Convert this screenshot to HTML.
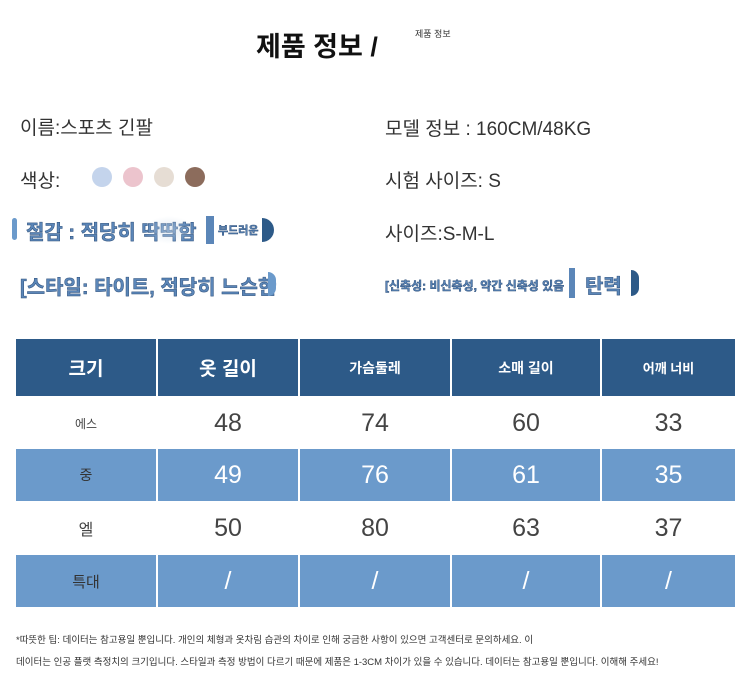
<!DOCTYPE html>
<html><head><meta charset="utf-8"><style>
body{margin:0;width:750px;height:699px;background:#fff;position:relative;overflow:hidden;font-family:"Liberation Sans","Noto Sans CJK KR",sans-serif;color:#333}
.a{position:absolute;white-space:nowrap}
.t{font-size:19px;color:#333}
.cell{position:absolute;display:flex;align-items:center;justify-content:center}
.h{background:#2d5a88;color:#fff}
.b{background:#6b9acb;color:#fff}
.w{background:#fff;color:#444}
.dot{position:absolute;width:20px;height:20px;border-radius:50%;top:167px}
.tag{position:absolute;color:#5b86b8;font-weight:bold;-webkit-text-stroke:0.5px #2d4f7a;text-shadow:0 0 2px #fff,0 0 3px #fff}
</style></head><body>
<div class="a" style="left:256px;top:25px;font-size:27px;font-weight:bold;color:#111">제품 정보 /</div>
<div class="a" style="left:415px;top:27px;font-size:9px;color:#333">제품 정보</div>

<div class="a t" style="left:20px;top:113px">이름:스포츠 긴팔</div>
<div class="a t" style="left:385px;top:114px">모델 정보 : 160CM/48KG</div>
<div class="a t" style="left:20px;top:166px">색상:</div>
<div class="dot" style="left:92px;background:#c4d4ec"></div>
<div class="dot" style="left:123px;background:#ecc4cd"></div>
<div class="dot" style="left:154px;background:#e6ddd4"></div>
<div class="dot" style="left:185px;background:#8c6c5c"></div>
<div class="a t" style="left:385px;top:166px">시험 사이즈: S</div>
<div class="a t" style="left:385px;top:219px">사이즈:S-M-L</div>

<div class="a" style="left:12px;top:218px;width:5px;height:22px;background:#6b9acb;border-radius:3px"></div>
<div class="tag" style="left:26px;top:216px;font-size:20px">절감 : 적당히 딱딱함</div>
<div class="a" style="left:144px;top:216px;width:50px;height:28px;background:radial-gradient(#c9d8e8,transparent 70%);opacity:.5"></div>
<div class="a" style="left:206px;top:216px;width:8px;height:28px;background:#5b86b8"></div>
<div class="tag" style="left:218px;top:222px;font-size:11px">부드러운</div>
<div class="a" style="left:262px;top:218px;width:12px;height:24px;background:#2d5a88;border-radius:0 12px 12px 0"></div>

<div class="tag" style="left:20px;top:271px;font-size:20px">[스타일: 타이트, 적당히 느슨한</div>
<div class="a" style="left:268px;top:272px;width:8px;height:24px;background:#6b9acb;border-radius:0 12px 12px 0"></div>
<div class="tag" style="left:385px;top:277px;font-size:12px">[신축성: 비신축성, 약간 신축성 있음</div>
<div class="a" style="left:569px;top:268px;width:6px;height:30px;background:#5b86b8"></div>
<div class="tag" style="left:585px;top:270px;font-size:20px">탄력</div>
<div class="a" style="left:631px;top:270px;width:8px;height:26px;background:#2d5a88;border-radius:0 13px 13px 0"></div>

<!-- table -->
<div class="cell h" style="left:16px;top:339px;width:140px;height:57px;font-size:19px;font-weight:bold">크기</div>
<div class="cell h" style="left:158px;top:339px;width:140px;height:57px;font-size:19px;font-weight:bold">옷 길이</div>
<div class="cell h" style="left:300px;top:339px;width:150px;height:57px;font-size:14px;font-weight:bold">가슴둘레</div>
<div class="cell h" style="left:452px;top:339px;width:148px;height:57px;font-size:14px;font-weight:bold">소매 길이</div>
<div class="cell h" style="left:602px;top:339px;width:133px;height:57px;font-size:13px;font-weight:bold">어깨 너비</div>

<div class="cell w" style="left:16px;top:398px;width:140px;height:50px;font-size:12px">에스</div>
<div class="cell w" style="left:158px;top:398px;width:140px;height:50px;font-size:25px">48</div>
<div class="cell w" style="left:300px;top:398px;width:150px;height:50px;font-size:25px">74</div>
<div class="cell w" style="left:452px;top:398px;width:148px;height:50px;font-size:25px">60</div>
<div class="cell w" style="left:602px;top:398px;width:133px;height:50px;font-size:25px">33</div>

<div class="cell b" style="left:16px;top:449px;width:140px;height:52px;font-size:14px;color:#333">중</div>
<div class="cell b" style="left:158px;top:449px;width:140px;height:52px;font-size:25px">49</div>
<div class="cell b" style="left:300px;top:449px;width:150px;height:52px;font-size:25px">76</div>
<div class="cell b" style="left:452px;top:449px;width:148px;height:52px;font-size:25px">61</div>
<div class="cell b" style="left:602px;top:449px;width:133px;height:52px;font-size:25px">35</div>

<div class="cell w" style="left:16px;top:502px;width:140px;height:52px;font-size:16px">엘</div>
<div class="cell w" style="left:158px;top:502px;width:140px;height:52px;font-size:25px">50</div>
<div class="cell w" style="left:300px;top:502px;width:150px;height:52px;font-size:25px">80</div>
<div class="cell w" style="left:452px;top:502px;width:148px;height:52px;font-size:25px">63</div>
<div class="cell w" style="left:602px;top:502px;width:133px;height:52px;font-size:25px">37</div>

<div class="cell b" style="left:16px;top:555px;width:140px;height:52px;font-size:15px;color:#333">특대</div>
<div class="cell b" style="left:158px;top:555px;width:140px;height:52px;font-size:25px">/</div>
<div class="cell b" style="left:300px;top:555px;width:150px;height:52px;font-size:25px">/</div>
<div class="cell b" style="left:452px;top:555px;width:148px;height:52px;font-size:25px">/</div>
<div class="cell b" style="left:602px;top:555px;width:133px;height:52px;font-size:25px">/</div>

<div class="a" style="left:16px;top:632px;font-size:9.5px;color:#333">*따뜻한 팁: 데이터는 참고용일 뿐입니다. 개인의 체형과 옷차림 습관의 차이로 인해 궁금한 사항이 있으면 고객센터로 문의하세요. 이</div>
<div class="a" style="left:16px;top:654px;font-size:9.5px;color:#333">데이터는 인공 플랫 측정치의 크기입니다. 스타일과 측정 방법이 다르기 때문에 제품은 1-3CM 차이가 있을 수 있습니다. 데이터는 참고용일 뿐입니다. 이해해 주세요!</div>
</body></html>
